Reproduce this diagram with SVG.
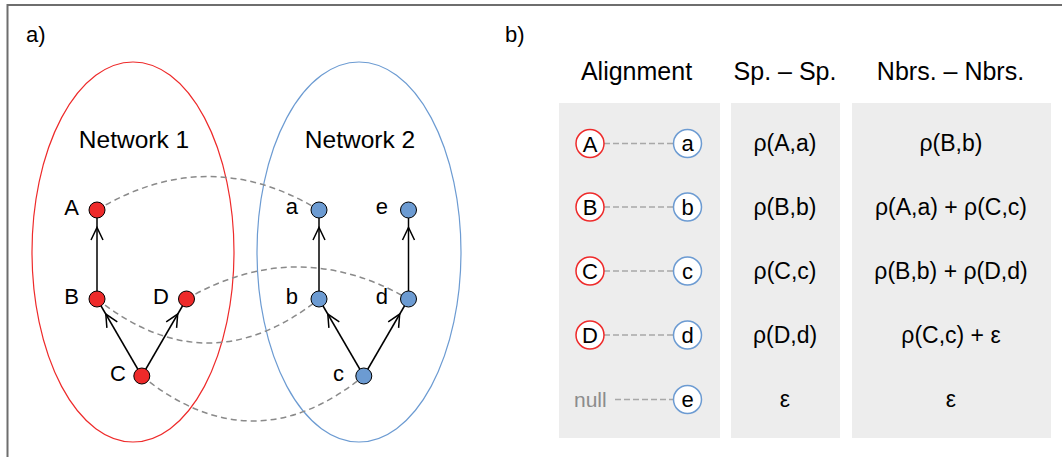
<svg xmlns="http://www.w3.org/2000/svg" width="1062" height="457" viewBox="0 0 1062 457">
<style>
text{font-family:"Liberation Sans",Arial,sans-serif;fill:#000}
.lbl{font-size:22px}
.hdr{font-size:25px;text-anchor:middle}
.nlab{font-size:22px;text-anchor:end}
.cell{font-size:23px;text-anchor:middle}
.ctext{font-size:22px;text-anchor:middle}
.edge{stroke:#000;stroke-width:1.5;fill:none}
.head{stroke:#000;stroke-width:1.5;fill:none;stroke-linejoin:miter}
.align{stroke:#8a8a8a;stroke-width:1.5;fill:none;stroke-dasharray:6,4}
.tdash{stroke:#a8a8a8;stroke-width:1.6;fill:none;stroke-dasharray:6,3}
.rn{fill:#ee2a2a;stroke:#000;stroke-width:1}
.bn{fill:#6c9bd2;stroke:#000;stroke-width:1}
.rc{fill:#fff;stroke:#ee2a2a;stroke-width:1.5}
.bc{fill:#fff;stroke:#6c9bd2;stroke-width:1.5}
.panel{fill:#ededed}
</style>
<rect x="0" y="0" width="1062" height="457" fill="#fff"/>
<rect x="7.5" y="5" width="1080" height="480" fill="none" stroke="#6e6e6e" stroke-width="2"/>
<text class="lbl" x="26" y="42">a)</text>
<text class="lbl" x="505" y="42">b)</text>

<g id="network1">
<ellipse cx="133" cy="252" rx="101" ry="190" fill="none" stroke="#ee2a2a" stroke-width="1.2"/>
<text class="hdr" x="134" y="148" style="font-size:24.5px">Network 1</text>
</g>
<g id="network2">
<ellipse cx="359" cy="252" rx="102" ry="190" fill="none" stroke="#6c9bd2" stroke-width="1.2"/>
<text class="hdr" x="360" y="148" style="font-size:24.5px">Network 2</text>
</g>

<g id="connectors">
<path class="align" d="M97,210 Q208,143 319,210"/>
<path class="align" d="M186.5,299 Q297.5,235 408.5,299"/>
<path class="align" d="M97,299 Q208,387 319,299"/>
<path class="align" d="M141.8,376 Q252.8,466 363.8,376"/>
<line class="edge" x1="97" y1="299" x2="97" y2="210"/>
<path class="head" d="M91,240 L97,227.5 L103,240"/>
<line class="edge" x1="141.8" y1="376" x2="97" y2="299"/>
<path class="head" d="M117.3,321.9 L105.8,314.1 L106.9,327.9"/>
<line class="edge" x1="141.8" y1="376" x2="186.5" y2="299"/>
<path class="head" d="M176.6,327.9 L177.7,314.1 L166.2,321.9"/>
<line class="edge" x1="319" y1="299" x2="319" y2="210"/>
<path class="head" d="M313,240 L319,227.5 L325,240"/>
<line class="edge" x1="408.5" y1="299" x2="408.5" y2="210"/>
<path class="head" d="M402.5,240 L408.5,227.5 L414.5,240"/>
<line class="edge" x1="363.8" y1="376" x2="319" y2="299"/>
<path class="head" d="M339.3,321.9 L327.8,314.1 L328.9,327.9"/>
<line class="edge" x1="363.8" y1="376" x2="408.5" y2="299"/>
<path class="head" d="M398.6,327.9 L399.7,314.1 L388.2,321.9"/>
</g>

<g id="node-A"><circle class="rn" cx="97" cy="210" r="8"/><text class="nlab" x="79" y="215">A</text></g>
<g id="node-B"><circle class="rn" cx="97" cy="299" r="8"/><text class="nlab" x="79" y="304">B</text></g>
<g id="node-D"><circle class="rn" cx="186.5" cy="299" r="8"/><text class="nlab" x="169" y="304">D</text></g>
<g id="node-C"><circle class="rn" cx="141.8" cy="376" r="8"/><text class="nlab" x="126" y="381">C</text></g>
<g id="node-a"><circle class="bn" cx="319" cy="210" r="8"/><text class="nlab" x="298" y="214">a</text></g>
<g id="node-e"><circle class="bn" cx="408.5" cy="210" r="8"/><text class="nlab" x="388" y="214">e</text></g>
<g id="node-b"><circle class="bn" cx="319" cy="299" r="8"/><text class="nlab" x="298" y="304">b</text></g>
<g id="node-d"><circle class="bn" cx="408.5" cy="299" r="8"/><text class="nlab" x="388" y="304">d</text></g>
<g id="node-c"><circle class="bn" cx="363.8" cy="376" r="8"/><text class="nlab" x="344" y="381">c</text></g>

<g id="table">
<text class="hdr" x="636.5" y="80">Alignment</text>
<text class="hdr" x="785" y="80">Sp. – Sp.</text>
<text class="hdr" x="950.5" y="80">Nbrs. – Nbrs.</text>
<rect class="panel" x="559" y="103" width="161" height="335"/>
<rect class="panel" x="731" y="103" width="109" height="335"/>
<rect class="panel" x="852" y="103" width="199" height="335"/>
</g>

<g id="table-connectors">
<line class="tdash" x1="604" y1="143.5" x2="673" y2="143.5"/>
<line class="tdash" x1="604" y1="207" x2="673" y2="207"/>
<line class="tdash" x1="604" y1="271" x2="673" y2="271"/>
<line class="tdash" x1="604" y1="335" x2="673" y2="335"/>
<line class="tdash" x1="615" y1="399.5" x2="673" y2="399.5"/>
</g>

<g id="row-1">
<circle class="rc" cx="590" cy="143.5" r="14"/><text class="ctext" x="590" y="151.5">A</text>
<circle class="bc" cx="687.5" cy="143.5" r="14"/><text class="ctext" x="687.5" y="151">a</text>
<text class="cell" x="785" y="151">ρ(A,a)</text>
<text class="cell" x="951" y="151">ρ(B,b)</text>
</g>
<g id="row-2">
<circle class="rc" cx="590" cy="207" r="14"/><text class="ctext" x="590" y="215">B</text>
<circle class="bc" cx="687.5" cy="207" r="14"/><text class="ctext" x="687.5" y="215">b</text>
<text class="cell" x="785" y="215">ρ(B,b)</text>
<text class="cell" x="951" y="215">ρ(A,a) + ρ(C,c)</text>
</g>
<g id="row-3">
<circle class="rc" cx="590" cy="271" r="14"/><text class="ctext" x="590" y="279">C</text>
<circle class="bc" cx="687.5" cy="271" r="14"/><text class="ctext" x="687.5" y="278.5">c</text>
<text class="cell" x="785" y="279">ρ(C,c)</text>
<text class="cell" x="951" y="279">ρ(B,b) + ρ(D,d)</text>
</g>
<g id="row-4">
<circle class="rc" cx="590" cy="335" r="14"/><text class="ctext" x="590" y="343">D</text>
<circle class="bc" cx="687.5" cy="335" r="14"/><text class="ctext" x="687.5" y="343">d</text>
<text class="cell" x="785" y="343">ρ(D,d)</text>
<text class="cell" x="951" y="343">ρ(C,c) + ε</text>
</g>
<g id="row-5">
<text x="574" y="407" style="font-size:21px;fill:#8c8c8c">null</text>
<circle class="bc" cx="687.5" cy="399.5" r="14"/><text class="ctext" x="687.5" y="407">e</text>
<text class="cell" x="785" y="407">ε</text>
<text class="cell" x="951" y="407">ε</text>
</g>
</svg>
